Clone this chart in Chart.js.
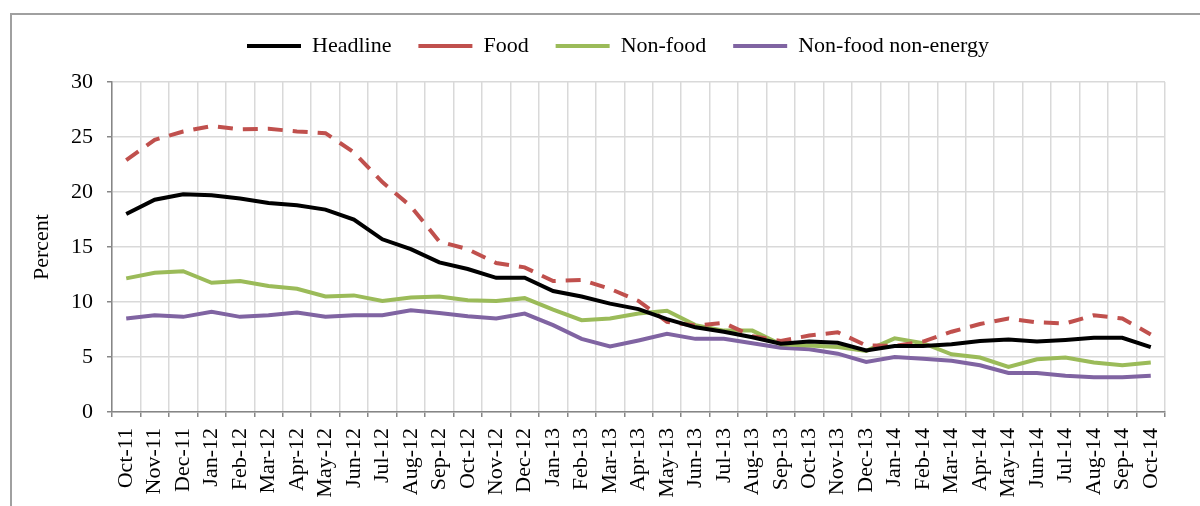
<!DOCTYPE html>
<html>
<head>
<meta charset="utf-8">
<script src="https://cdn.jsdelivr.net/npm/chart.js@4/dist/chart.umd.min.js"></script>
<style>
	body { margin: 0; background: #fff; }
	#wrap { width: 1200px; height: 506px; }
</style>
</head>
<body>
<div id="wrap"><canvas id="inflationChart" width="1200" height="506"></canvas></div>
<script>
var months = ['Oct-11','Nov-11','Dec-11','Jan-12','Feb-12','Mar-12','Apr-12','May-12','Jun-12','Jul-12','Aug-12','Sep-12',
	'Oct-12','Nov-12','Dec-12','Jan-13','Feb-13','Mar-13','Apr-13','May-13','Jun-13','Jul-13','Aug-13','Sep-13',
	'Oct-13','Nov-13','Dec-13','Jan-14','Feb-14','Mar-14','Apr-14','May-14','Jun-14','Jul-14','Aug-14','Sep-14','Oct-14'];

var headline = [18.0, 19.3, 19.8, 19.7, 19.4, 19.0, 18.8, 18.4, 17.5, 15.7, 14.8, 13.6, 13.0, 12.2, 12.2, 11.0, 10.5, 9.85, 9.35,
	8.45, 7.7, 7.3, 6.8, 6.2, 6.4, 6.3, 5.6, 6.0, 6.0, 6.15, 6.45, 6.6, 6.4, 6.55, 6.75, 6.75, 5.9];
var food = [22.9, 24.75, 25.5, 26.0, 25.7, 25.75, 25.5, 25.35, 23.6, 20.9, 18.7, 15.5, 14.8, 13.55, 13.15, 11.9, 12.0, 11.2, 10.1,
	8.2, 7.85, 8.1, 6.9, 6.45, 6.95, 7.25, 6.05, 6.0, 6.4, 7.3, 8.0, 8.5, 8.15, 8.05, 8.8, 8.5, 7.05];
var nonFood = [12.15, 12.65, 12.8, 11.75, 11.9, 11.45, 11.2, 10.5, 10.6, 10.1, 10.4, 10.5, 10.15, 10.1, 10.35, 9.3, 8.35, 8.5, 8.95,
	9.2, 7.9, 7.4, 7.4, 6.15, 6.05, 5.9, 5.55, 6.7, 6.25, 5.25, 4.95, 4.1, 4.8, 4.95, 4.5, 4.25, 4.5];
var nonFoodNonEnergy = [8.5, 8.8, 8.65, 9.1, 8.65, 8.8, 9.05, 8.65, 8.8, 8.8, 9.25, 9.0, 8.7, 8.5, 8.95, 7.9, 6.65, 5.95, 6.5,
	7.1, 6.65, 6.65, 6.25, 5.85, 5.7, 5.3, 4.55, 5.0, 4.85, 4.65, 4.25, 3.55, 3.55, 3.3, 3.15, 3.15, 3.3];

var yTicks = [0, 5, 10, 15, 20, 25, 30];

var serif = 'Liberation Serif, "Times New Roman", serif';

// outer frame of the chart object (top and left edges only are in view)
var framePlugin = {
	id: 'frame',
	beforeDraw: function(chart) {
		var ctx = chart.ctx;
		ctx.save();
		ctx.fillStyle = '#fff';
		ctx.fillRect(0, 0, chart.width, chart.height);
		ctx.strokeStyle = '#a0a0a0';
		ctx.lineWidth = 2;
		ctx.beginPath();
		ctx.moveTo(11, chart.height);
		ctx.lineTo(11, 14);
		ctx.lineTo(chart.width, 14);
		ctx.stroke();
		ctx.restore();
	}
};

function lineSet(label, data, color, dash) {
	return {
		label: label,
		data: data,
		borderColor: color,
		backgroundColor: color,
		borderWidth: 4,
		borderDash: dash || [],
		pointRadius: 0,
		tension: 0,
		fill: false
	};
}

new Chart(document.getElementById('inflationChart').getContext('2d'), {
	type: 'line',
	data: {
		labels: months,
		datasets: [
			lineSet('Headline', headline, '#000000'),
			lineSet('Food', food, '#c0504d', [15, 10]),
			lineSet('Non-food', nonFood, '#9bbb59'),
			lineSet('Non-food non-energy', nonFoodNonEnergy, '#8064a2')
		]
	},
	options: {
		responsive: false,
		animation: false,
		// left/right padding difference keeps the legend centred like the original
		layout: {
			padding: { top: 8, right: 35, left: 71, bottom: 0 }
		},
		plugins: {
			legend: {
				position: 'top',
				labels: {
					usePointStyle: true,
					pointStyle: 'line',
					pointStyleWidth: 54,
					padding: 27,
					color: '#000',
					font: { family: serif, size: 22 }
				}
			},
			// empty spacer between legend and plot
			title: {
				display: true,
				text: '',
				weight: 500,
				font: { size: 10 },
				padding: { top: 1, bottom: 2 }
			},
			tooltip: { enabled: false }
		},
		scales: {
			x: {
				offset: true,
				grid: {
					offset: true,
					color: '#d9d9d9',
					lineWidth: 1.5,
					tickColor: '#868686',
					tickLength: 5
				},
				border: { color: '#868686', width: 1.5 },
				ticks: {
					autoSkip: false,
					minRotation: 90,
					maxRotation: 90,
					padding: 11,
					color: '#000',
					font: { family: serif, size: 22 }
				},
				afterFit: function(scale) {
					scale.height = 94;
				}
			},
			y: {
				min: 0,
				max: 30,
				afterBuildTicks: function(scale) {
					scale.ticks = yTicks.map(function(v) { return { value: v }; });
				},
				grid: {
					color: '#d9d9d9',
					lineWidth: 1.5,
					tickColor: '#868686',
					tickLength: 5
				},
				border: { color: '#868686', width: 1.5 },
				ticks: {
					padding: 14,
					color: '#000',
					font: { family: serif, size: 22 }
				},
				title: {
					display: true,
					text: 'Percent',
					color: '#000',
					padding: { top: -42, bottom: 0 },
					font: { family: serif, size: 22 }
				},
				afterFit: function(scale) {
					scale.width = 41;
				}
			}
		}
	},
	plugins: [framePlugin]
});
</script>
</body>
</html>
